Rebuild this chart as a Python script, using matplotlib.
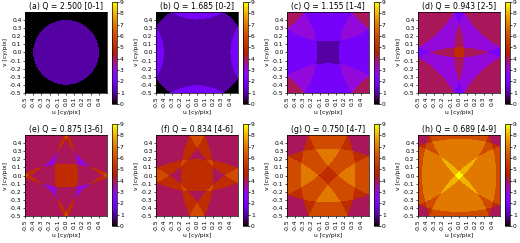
import numpy as np
import matplotlib
matplotlib.use("Agg")
import matplotlib.pyplot as plt

# panel parameters
letters = ["a", "b", "c", "d", "e", "f", "g", "h"]
Q = [2.500, 1.685, 1.155, 0.943, 0.875, 0.834, 0.750, 0.689]
ranges = ["0-1", "0-2", "1-4", "2-5", "3-6", "4-6", "4-7", "4-9"]
ticks = np.round(np.arange(-5, 5) / 10.0, 1)
cb_ticks = list(range(10))

N = 300
freq = (np.arange(N) - N / 2) / N
uu, vv = np.meshgrid(freq, freq)


def coverage(q):
    # number of aliased copies of the cutoff disk (radius 1/Q) over each frequency
    r = 1.0 / q
    cnt = np.zeros_like(uu)
    for i in range(-2, 3):
        for j in range(-2, 3):
            cnt += ((uu - i) ** 2 + (vv - j) ** 2) < r ** 2
    return cnt


W, H = 520.0, 243.0
fig = plt.figure(figsize=(W / 100, H / 100), dpi=100)
fs_tick = 4.3
fs_title = 5.6

for k in range(8):
    row, col = divmod(k, 4)
    left = 25 + 131 * col
    top = 12 + 123 * row
    ax = fig.add_axes([left / W, 1 - (top + 81) / H, 82 / W, 81 / H])
    im = ax.imshow(coverage(Q[k]), origin="lower", cmap="gnuplot", vmin=0, vmax=9,
                   extent=[-0.5, 0.5, -0.5, 0.5], interpolation="nearest", aspect="auto")
    ax.set_xticks(ticks)
    ax.set_yticks(ticks)
    ax.set_xticklabels(["%.1f" % t for t in ticks], rotation=90)
    ax.set_yticklabels(["%.1f" % t for t in ticks])
    ax.tick_params(labelsize=fs_tick, length=1.5, width=0.5, pad=1)
    ax.set_xlabel("u [cy/pix]", fontsize=fs_tick, labelpad=1.5)
    ax.set_ylabel("v [cy/pix]", fontsize=fs_tick, labelpad=1.5)
    ax.set_title("(%s) Q = %.3f [%s]" % (letters[k], Q[k], ranges[k]), fontsize=fs_title, pad=2)
    for s in ax.spines.values():
        s.set_linewidth(0.5)

    ctop = 2 + 122 * row
    cax = fig.add_axes([(left + 87) / W, 1 - (ctop + 102) / H, 4.5 / W, 102 / H])
    cb = fig.colorbar(im, cax=cax, ticks=cb_ticks)
    cb.ax.tick_params(labelsize=fs_tick, length=1.5, width=0.5, pad=1)
    cb.outline.set_linewidth(0.5)

fig.savefig("out.png", dpi=100)
